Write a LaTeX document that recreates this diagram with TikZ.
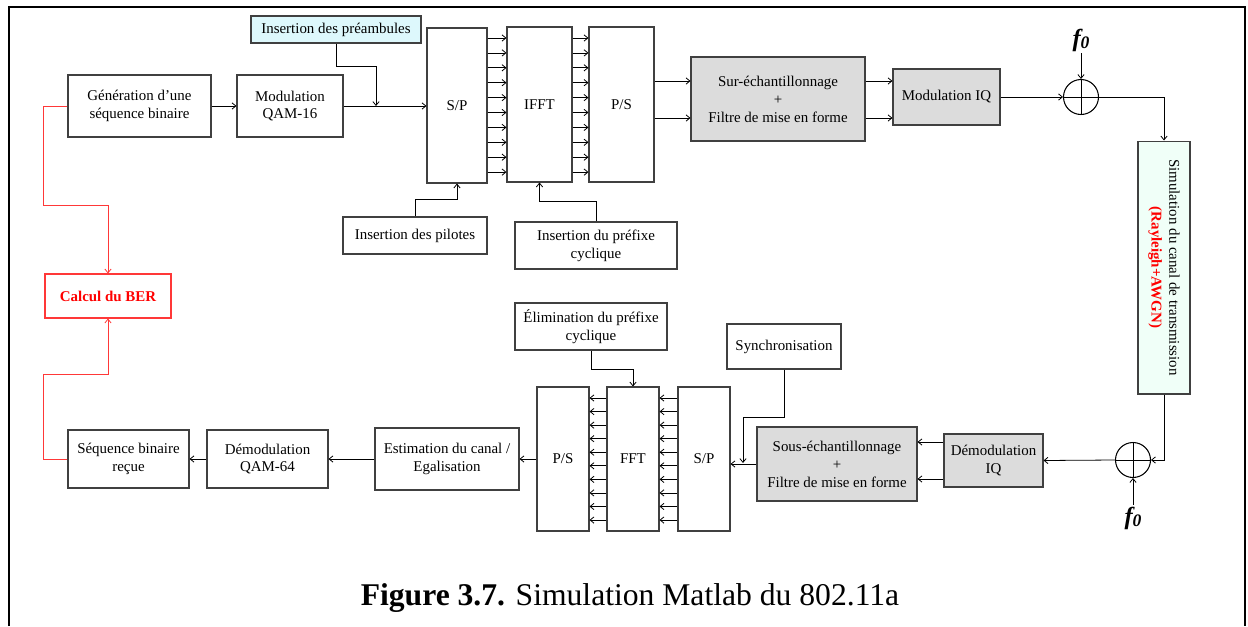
\documentclass[tikz,border=0pt]{standalone}
\usepackage{fontspec}
\setmainfont{Liberation Serif}
\usepackage{xcolor}
\usepackage{tikz}
\usetikzlibrary{
  arrows.meta,
  positioning,
  calc,
}
\definecolor{blkGray}{HTML}{DCDCDC}
\definecolor{preCyan}{HTML}{DDF8FC}
\definecolor{chanMint}{HTML}{F0FFF8}
\definecolor{berRed}{HTML}{FF0000}
\definecolor{berLine}{HTML}{FF3838}

\begin{document}
\begin{tikzpicture}[x=0.02cm, y=-0.02cm,
  blk/.style={draw=black!75, line width=0.6pt, inner sep=0pt, align=center,
              font=\fontsize{8.5}{10.2}\selectfont},
  gblk/.style={blk, fill=blkGray},
  arr/.style={line width=0.45pt, -{Straight Barb[length=2.2pt, width=3.6pt]}},
  rarr/.style={arr, draw=berLine},
  sumc/.style={circle, draw, line width=0.6pt, minimum size=0.7cm, inner sep=0pt},
  flab/.style={inner sep=1pt, font=\fontsize{14}{14}\bfseries\itshape\selectfont},
]
  \useasboundingbox (0,0) rectangle (1248,626);
  % frame
  \draw[line width=1.2pt] (9,626) -- (9,7) -- (1245,7) -- (1245,626);

  % emission
  \node[blk, minimum width=2.86cm, minimum height=1.24cm] (gen) at (139.5,106) {G\'en\'eration d'une\\s\'equence binaire};
  \node[blk, minimum width=2.12cm, minimum height=1.24cm] (qam) at (290,106) {Modulation\\QAM-16};
  \node[blk, fill=preCyan, minimum width=3.40cm, minimum height=0.54cm] (pre) at (336,29.5) {Insertion des pr\'eambules};
  \node[blk, minimum width=1.2cm, minimum height=3.1cm] (sp) at (457,105.5) {S/P};
  \node[blk, minimum width=1.3cm, minimum height=3.1cm] (ifft) at (539.5,104.5) {IFFT};
  \node[blk, minimum width=1.3cm, minimum height=3.1cm] (ps) at (621.5,104.5) {P/S};
  \node[blk, minimum width=2.88cm, minimum height=0.74cm] (pil) at (415,235.5) {Insertion des pilotes};
  \node[blk, minimum width=3.24cm, minimum height=0.94cm] (pref) at (596,245.5) {Insertion du pr\'efixe\\cyclique};
  \node[gblk, minimum width=3.48cm, minimum height=1.68cm] (sur) at (778,99) {Sur-\'echantillonnage\\+\\Filtre de mise en forme};
  \node[gblk, minimum width=2.14cm, minimum height=1.12cm] (modiq) at (946.5,97) {Modulation IQ};
  \node[sumc] (add1) at (1081,97) {};
  \node[flab] (f0t) at (1081,40) {f\raisebox{-1.5pt}{\fontsize{10}{10}\selectfont 0}};

  % canal
  \node[blk, fill=chanMint, rotate=-90, minimum width=5.06cm, minimum height=1.04cm] (chan) at (1164,267.5)
    {Simulation du canal de transmission\\\textcolor{berRed}{\bfseries (Rayleigh+AWGN)}};

  % reception
  \node[sumc] (add2) at (1133,460) {};
  \node[flab] (f0b) at (1133,518) {f\raisebox{-1.5pt}{\fontsize{10}{10}\selectfont 0}};
  \node[gblk, minimum width=1.98cm, minimum height=1.06cm] (demiq) at (993.5,460.5) {D\'emodulation\\IQ};
  \node[gblk, minimum width=3.2cm, minimum height=1.48cm] (sous) at (837,464) {Sous-\'echantillonnage\\+\\Filtre de mise en forme};
  \node[blk, minimum width=2.28cm, minimum height=0.9cm] (sync) at (784,346.5) {Synchronisation};
  \node[blk, minimum width=1.04cm, minimum height=2.88cm] (sprx) at (704,459) {S/P};
  \node[blk, minimum width=1.04cm, minimum height=2.88cm] (fft) at (633,459) {FFT};
  \node[blk, minimum width=1.04cm, minimum height=2.88cm] (psrx) at (563,459) {P/S};
  \node[blk, minimum width=3.04cm, minimum height=0.94cm] (elim) at (591,326.5) {\'Elimination du pr\'efixe\\cyclique};
  \node[blk, minimum width=2.88cm, minimum height=1.24cm] (est) at (447,459) {Estimation du canal /\\Egalisation};
  \node[blk, minimum width=2.42cm, minimum height=1.16cm] (dem) at (267.5,459) {D\'emodulation\\QAM-64};
  \node[blk, minimum width=2.42cm, minimum height=1.16cm] (seq) at (128.5,459) {S\'equence binaire\\re\c{c}ue};
  \node[blk, draw=berLine, text=berRed, minimum width=2.52cm, minimum height=0.88cm,
        font=\fontsize{8.5}{10.2}\bfseries\selectfont] (calc) at (108,296) {Calcul du BER};

  % caption
  \node[font=\fontsize{18}{20}\selectfont] (cap) at (630,598) {\textbf{Figure 3.7.} Simulation Matlab du 802.11a};

  % emission links
  \coordinate (prein) at (376,106);
  \draw[arr] (gen) -- (qam);
  \draw[line width=0.45pt] (qam.east) -- (prein);
  \draw[arr] (prein) -- (prein -| sp.west);
  \draw[arr] (pre.south) -- ++(0,23) -| (prein);
  \draw[arr] (pil.north) -- ++(0,-17) -| (sp.south);
  \draw[arr] (pref.north) -- ++(0,-20) -| (ifft.south);
  \foreach \k [evaluate=\k as \yy using 38+\k*14.9] in {0,...,9} {
    \draw[arr] (sp.east |- 0,\yy) -- (ifft.west |- 0,\yy);
    \draw[arr] (ifft.east |- 0,\yy) -- (ps.west |- 0,\yy);
  }
  \foreach \yy in {81,118} {
    \draw[arr] (ps.east |- 0,\yy) -- (sur.west |- 0,\yy);
    \draw[arr] (sur.east |- 0,\yy) -- (modiq.west |- 0,\yy);
  }
  \draw[arr] (modiq.east) -- (add1.west);
  \draw[line width=0.45pt] (add1.north) -- (add1.south) (add1.west) -- (add1.east);
  \draw[arr] (f0t.south) -- (add1.north);
  \draw[arr] (add1.east) -| (chan.west);

  % reception links
  \draw[arr] (chan.east) |- (add2.east);
  \draw[line width=0.45pt] (add2.north) -- (add2.south) (add2.west) -- (add2.east);
  \draw[arr] (f0b.north) -- (add2.south);
  \draw[arr] (add2.west) -- (demiq.east);
  \foreach \yy in {442,479} {
    \draw[arr] (demiq.west |- 0,\yy) -- (sous.east |- 0,\yy);
  }
  \coordinate (syncin) at (743,463);
  \draw[arr] (sous.west) -- (sous.west -| sprx.east);
  \draw[arr] (sync.south) -- ++(0,48) -| (syncin);
  \draw[arr] (elim.south) -- ++(0,19) -| (fft.north);
  \foreach \k [evaluate=\k as \yy using 398+\k*13.56] in {0,...,9} {
    \draw[arr] (sprx.west |- 0,\yy) -- (fft.east |- 0,\yy);
    \draw[arr] (fft.west |- 0,\yy) -- (psrx.east |- 0,\yy);
  }
  \draw[arr] (psrx.west) -- (psrx.west -| est.east);
  \draw[arr] (est.west) -- (est.west -| dem.east);
  \draw[arr] (dem.west) -- (dem.west -| seq.east);

  % BER
  \coordinate (bertop) at (108,205);
  \coordinate (berbot) at (108,374);
  \draw[rarr] (gen.west) -- ++(-24,0) |- (bertop) -- (calc.north);
  \draw[rarr] (seq.west) -- ++(-24,0) |- (berbot) -- (calc.south);
\end{tikzpicture}
\end{document}
